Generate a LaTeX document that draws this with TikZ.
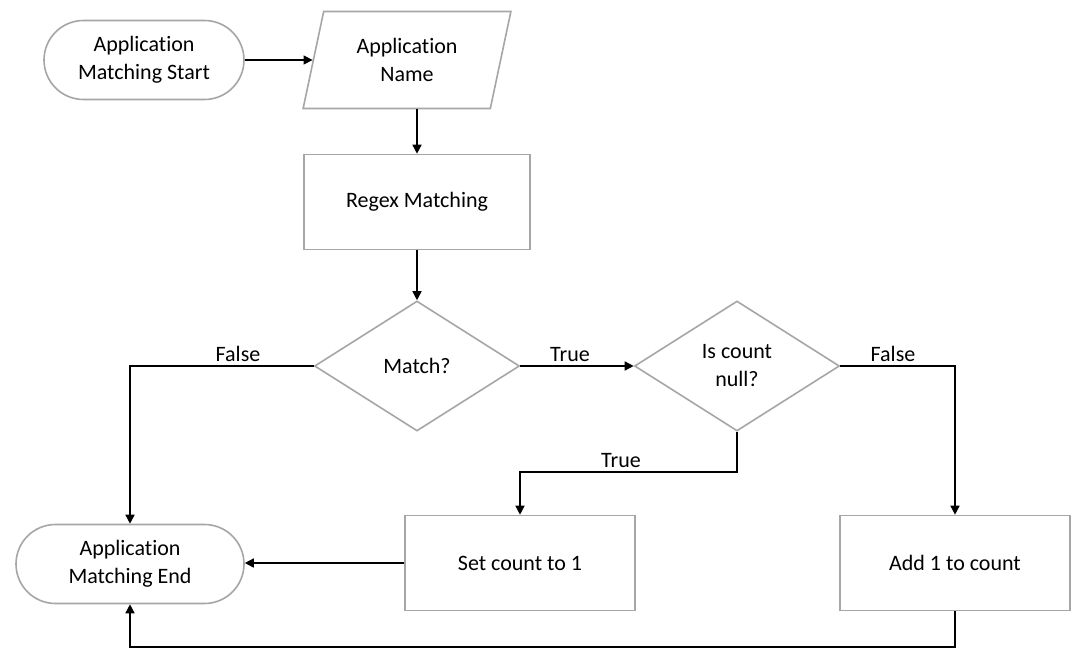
\documentclass[tikz,border=0pt]{standalone}
\usepackage{fontspec}
\setmainfont{Carlito}[Ligatures={NoCommon}]
\usetikzlibrary{shapes.geometric,shapes.misc,arrows.meta}
\definecolor{boxgray}{HTML}{A6A6A6}
\begin{document}
\begin{tikzpicture}[x=1pt,y=-1pt,
  every node/.style={font=\fontsize{22}{28}\selectfont, align=center, inner sep=0pt},
  pill/.style={draw=boxgray, line width=1.6pt, rounded rectangle, minimum width=#1, minimum height=79pt},
  procbox/.style={draw=boxgray, line width=1.6pt, rectangle, minimum width=#1, minimum height=95pt},
  decision/.style={draw=boxgray, line width=1.6pt, diamond, aspect=1.58, minimum width=205pt, minimum height=130pt},
  iobox/.style={draw=boxgray, line width=1.6pt, trapezium, trapezium left angle=74, trapezium right angle=106, minimum width=208pt, minimum height=97pt, trapezium stretches=true},
  conn/.style={draw=black, line width=1.5pt, -{Triangle[length=9pt,width=9pt]}},
  lbl/.style={font=\fontsize{22}{28}\selectfont, anchor=south, inner sep=4.5pt}]
\useasboundingbox (0,0) rectangle (1084,666);
\fill[white] (0,0) rectangle (1084,666);
\node[pill=200pt] (start) at (144,60) {Application\\Matching Start};
\node[iobox] (name) at (407,60) {Application\\Name};
\node[procbox=226pt] (regex) at (417,202) {Regex Matching};
\node[decision] (match) at (417,366) {Match?};
\node[decision] (isnull) at (737,366) {Is count\\null?};
\node[pill=228pt] (end) at (130,564) {Application\\Matching End};
\node[procbox=230pt] (set) at (520,563) {Set count to 1};
\node[procbox=230pt] (add) at (955,563) {Add 1 to count};
\coordinate (c2) at (737,472);
\coordinate (c3) at (520,472);
\coordinate (c5) at (955,647);
\draw[conn] (start.east) -- (name.west |- start.east);
\draw[conn] (name.south -| regex.north) -- (regex.north);
\draw[conn] (regex.south) -- (match.north);
\draw[conn] (match.west) -| (end.north);
\node[lbl] (lf) at (238,366) {False};
\draw[conn] (match.east) -- (isnull.west);
\node[lbl] (lt) at (570,366) {True};
\draw[conn] (isnull.south) -- (c2) -- (c3) -- (set.north);
\node[lbl] (lt2) at (621,472) {True};
\draw[conn] (isnull.east) -| (add.north);
\node[lbl] (lf2) at (893,366) {False};
\draw[conn] (set.west) -- (set.west -| end.east);
\draw[conn] (add.south) -- (c5) -| (end.south);
\end{tikzpicture}
\end{document}
